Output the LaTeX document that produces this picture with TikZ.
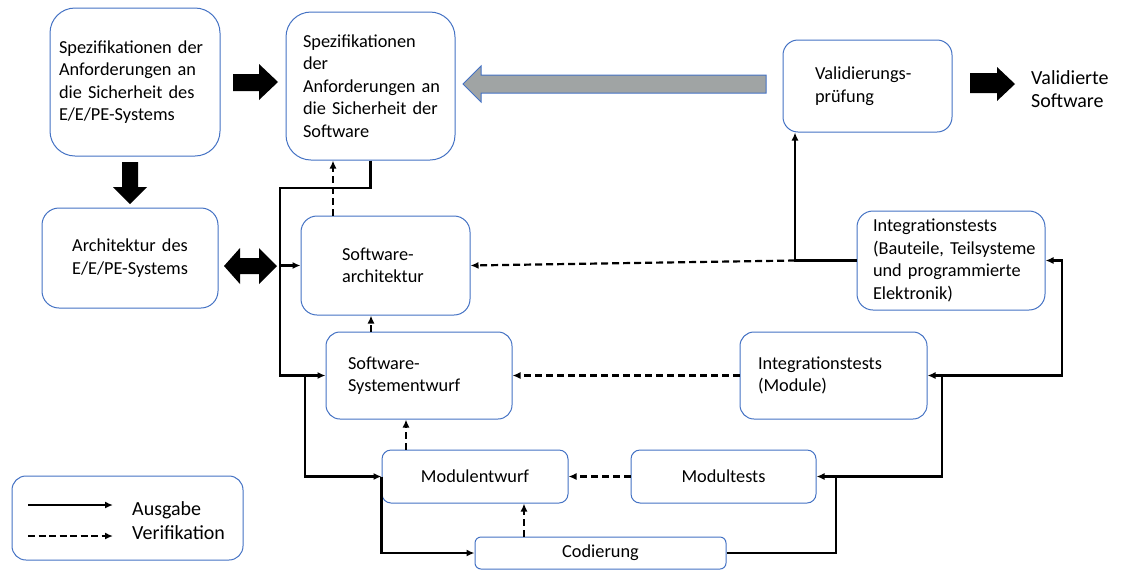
\documentclass[tikz,border=0pt]{standalone}
\usepackage{fontspec}
\setmainfont{Carlito}
\usetikzlibrary{arrows.meta}
\definecolor{boxblue}{RGB}{68,114,196}
\definecolor{arrowgray}{RGB}{160,164,164}

\begin{document}
\begin{tikzpicture}[x=1pt,y=-1pt, % pixel grid of the original, y downwards
	box/.style={draw=boxblue, line width=1pt, fill=white, inner ysep=0pt, font=\fontsize{18.3}{22.5}\selectfont},
	ausgabe/.style={line width=2.2pt, -{Latex[length=8pt,width=7pt]}},
	verif/.style={line width=2.2pt, dash pattern=on 7pt off 4pt, -{Latex[length=8pt,width=7pt]}}]

	\useasboundingbox (0,0) rectangle (1131,571);

	\node[box, rounded corners=25pt, align=left, text width=152pt, inner xsep=9pt, minimum height=148pt] (specee) at (135,82)
		{Spezifikationen der\\Anforderungen an\\die Sicherheit des\\E/E/PE-Systems};
	\node[box, rounded corners=25pt, align=left, text width=135pt, inner xsep=17pt, minimum height=148pt] (specsw) at (370.5,86)
		{Spezifikationen\\der\\\mbox{Anforderungen an}\\\mbox{die Sicherheit der}\\Software};
	\node[box, rounded corners=15pt, align=left, text width=105pt, inner xsep=32pt, minimum height=92pt] (valid) at (867.5,86)
		{Validierungs-\\prüfung};
	\node[anchor=west, inner sep=0pt, align=left, font=\fontsize{20}{23}\selectfont] (valsw) at (1031,89)
		{Validierte\\Software};

	\node[box, rounded corners=17pt, align=center, text width=176pt, inner xsep=0pt, minimum height=100pt] (arch) at (130,258)
		{Architektur des\\E/E/PE-Systems};
	\node[box, rounded corners=16pt, align=left, text width=87pt, inner xsep=41pt, minimum height=99pt] (swarch) at (385.5,265.5)
		{Software-\\architektur};
	\node[box, rounded corners=16pt, align=left, text width=156pt, inner xsep=16pt, minimum height=99pt] (integb) at (951,260.5)
		{Integrationstests\\\mbox{(Bauteile, Teilsysteme}\\und programmierte\\Elektronik)};

	\node[box, rounded corners=14pt, align=left, text width=142pt, inner xsep=22pt, minimum height=87pt] (swsys) at (419,375.5)
		{Software-\\Systementwurf};
	\node[box, rounded corners=14pt, align=left, text width=151pt, inner xsep=18pt, minimum height=87pt] (integm) at (833.5,375.5)
		{Integrationstests\\(Module)};

	\node[box, rounded corners=9pt, align=center, text width=186pt, inner xsep=0pt, minimum height=53pt] (modent) at (475,476.5) {Modulentwurf};
	\node[box, rounded corners=9pt, align=center, text width=185pt, inner xsep=0pt, minimum height=53pt] (modtest) at (723.5,476.5) {Modultests};
	\node[box, rounded corners=6pt, align=center, text width=251pt, inner xsep=0pt, minimum height=32pt] (codier) at (600.5,553) {Codierung};

	% block arrows
	\fill (233,74) -- (259,74) -- (259,64) -- (278,82) -- (259,100) -- (259,91) -- (233,91) -- cycle;
	\fill (122,162) -- (138,162) -- (138,187) -- (147,187) -- (130,204) -- (113,187) -- (122,187) -- cycle;
	\fill (224,266) -- (240,248) -- (240,258) -- (259,258) -- (259,248) -- (277,266) -- (259,284) -- (259,274) -- (240,274) -- (240,284) -- cycle;
	\filldraw[fill=arrowgray, draw=boxblue, line width=1pt] (463,84) -- (481,66) -- (481,75) -- (766,75) -- (766,93) -- (481,93) -- (481,102) -- cycle;
	\fill (970,73) -- (997,73) -- (997,67) -- (1015,84) -- (997,101) -- (997,93) -- (970,93) -- cycle;

	% Ausgabe
	\coordinate (k1) at (280,188);
	\coordinate (k2) at (305,375.5);
	\coordinate (k3) at (836,476.5);
	\coordinate (k4) at (942,375.5);
	\coordinate (k5) at (1062,260.5);
	\coordinate (k6) at (795,260.5);
	\draw[ausgabe] (specsw.south) |- (k1) -- (k1 |- swsys.west) -- (swsys.west);
	\draw[ausgabe] (k1 |- swarch.west) -- (swarch.west);
	\draw[ausgabe] (k2) |- (modent.west);
	\draw[ausgabe] (modent.west) |- (codier.west);
	\draw[ausgabe] (codier.east) -| (k3) -- (modtest.east);
	\draw[ausgabe] (k3) -| (k4) -- (integm.east);
	\draw[ausgabe] (k4) -| (k5) -- (integb.east);
	\draw[ausgabe] (integb.west) -- (k6) -- (k6 |- valid.south);

	% Verifikation
	\draw[verif] (k6) -- (swarch.east);
	\draw[verif] ([xshift=-52.5pt]swarch.north) coordinate (v1) -- (v1 |- specsw.south);
	\draw[verif] ([xshift=-48pt]swsys.north) coordinate (v2) -- (v2 |- swarch.south);
	\draw[verif] ([xshift=-69pt]modent.north) coordinate (v3) -- (v3 |- swsys.south);
	\draw[verif] ([xshift=-76.5pt]codier.north) coordinate (v4) -- (v4 |- modent.south);
	\draw[verif] (modtest.west) -- (modent.east);
	\draw[verif] (integm.west) -- (swsys.east);

	% legend
	\node[box, rounded corners=14pt, minimum width=231pt, minimum height=84pt, inner xsep=0pt] (legend) at (127.5,518) {};
	\node[anchor=base west, inner sep=0pt, font=\fontsize{20}{23}\selectfont] (lgaus) at (132,515) {Ausgabe};
	\node[anchor=base west, inner sep=0pt, font=\fontsize{20}{23}\selectfont] (lgver) at (132,539) {Verifikation};
	\coordinate (la) at (28,505);
	\coordinate (lv) at (28,536);
	\draw[ausgabe] (la) -- ++(85,0);
	\draw[verif, dash pattern=on 7pt off 3.5pt] (lv) -- ++(85,0);

\end{tikzpicture}
\end{document}
